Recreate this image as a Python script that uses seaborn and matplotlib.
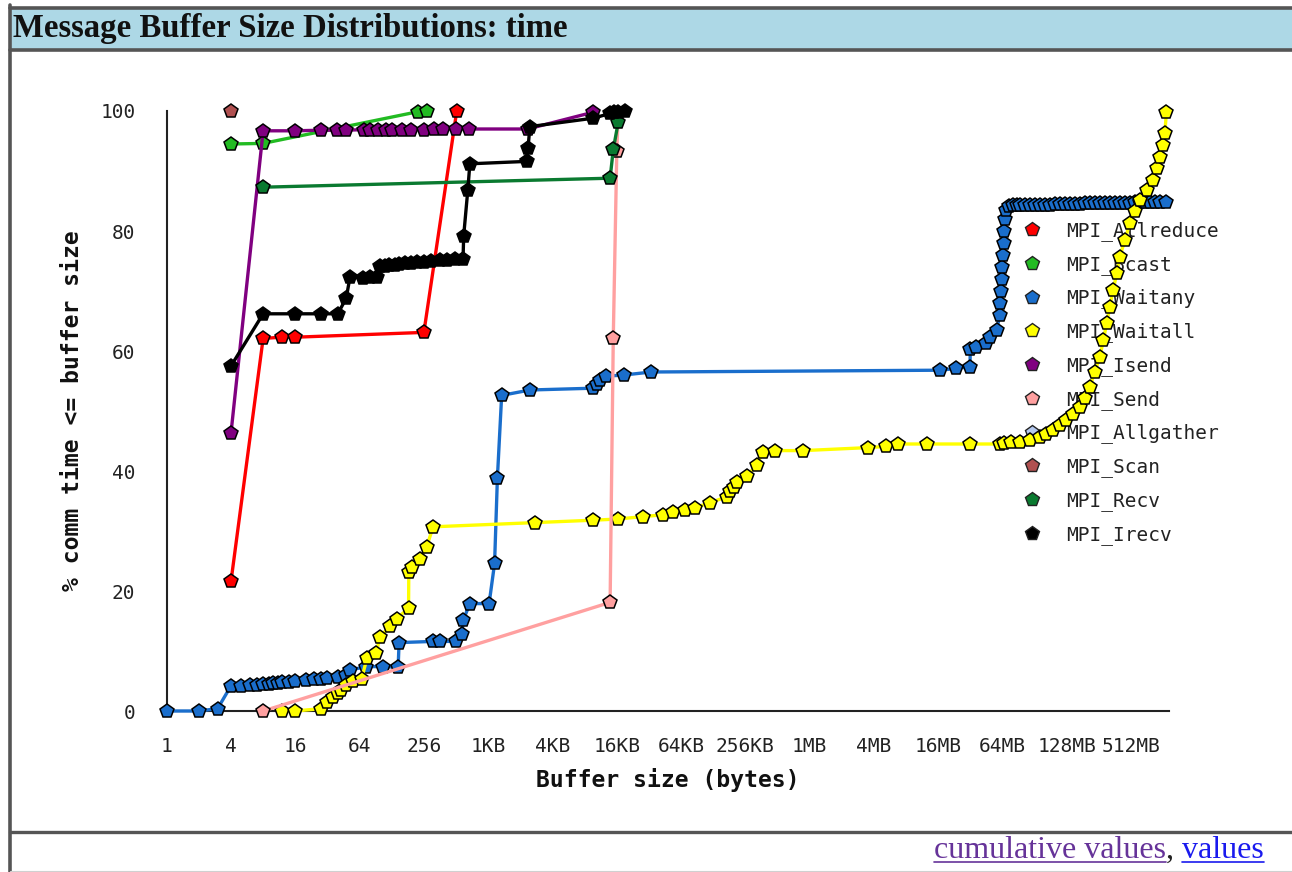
import matplotlib
matplotlib.use("Agg")
import matplotlib.pyplot as plt
from matplotlib.lines import Line2D
from matplotlib.patches import Rectangle
from matplotlib.ticker import FixedLocator, FixedFormatter, NullLocator
import seaborn as sns
import pandas as pd

# ---------------- data (buffer size in bytes, % comm time <= size) ----------------
series_names = ["MPI_Allreduce", "MPI_Bcast", "MPI_Waitany", "MPI_Waitall", "MPI_Isend",
                "MPI_Send", "MPI_Allgather", "MPI_Scan", "MPI_Recv", "MPI_Irecv"]
series_colors = ["#ff0000", "#22bb22", "#1a6ecc", "#ffff00", "#800080",
                 "#ffa0a0", "#b4c8ee", "#b05050", "#0a7a30", "#000000"]

allreduce_x = [4, 8, 12, 16, 256, 520]
allreduce_y = [21.6, 62.1, 62.3, 62.3, 63.1, 100]

bcast_x = [4, 8, 228, 272]
bcast_y = [94.5, 94.6, 99.9, 100]

waitany_x = [1, 2, 3, 4, 5, 6, 7, 8, 9, 10, 11, 12, 14, 16, 20, 24, 28, 32, 40, 48,
             52, 73, 107, 147, 150, 315, 362, 512, 580, 600, 690, 1045, 1176, 1250, 1370,
             2520, 9870, 10700, 11500, 13000, 19200, 34400,
             17.5e6, 24.8e6, 33.3e6, 33.5e6, 38.3e6, 47.5e6, 50.9e6, 59e6,
             63.5e6, 64e6, 65e6, 66e6, 67e6, 68e6, 69e6, 70e6, 71e6, 72e6,
             78e6, 84.4e6, 91e6, 97.6e6, 109e6, 121e6, 135e6, 150e6, 168e6, 186e6, 208e6, 232e6,
             260e6, 288e6, 320e6, 357e6, 400e6, 442e6, 495e6, 548e6, 610e6,
             680e6, 760e6, 842e6, 940e6, 1044e6, 1160e6, 1295e6, 1440e6, 1605e6, 1790e6, 1990e6, 2302e6]
waitany_y = [0, 0, 0.4, 4.2, 4.2, 4.3, 4.4, 4.5, 4.5, 4.6, 4.7, 4.8, 4.9, 5.0, 5.2, 5.3, 5.4, 5.5, 5.6, 6.0,
             6.8, 7.4, 7.4, 7.3, 11.4, 11.6, 11.6, 11.6, 12.9, 15.2, 17.9, 17.9, 24.6, 38.9, 52.6,
             53.5, 53.8, 54.5, 55.2, 55.8, 56.0, 56.5,
             56.8, 57.1, 57.4, 60.4, 60.7, 61.3, 62.4, 63.5,
             66, 68, 70, 72, 74, 76, 78, 80, 82, 83.5,
             84.1, 84.3, 84.3, 84.3, 84.4, 84.4, 84.4, 84.4, 84.4, 84.4, 84.5, 84.5,
             84.5, 84.5, 84.5, 84.5, 84.6, 84.6, 84.6, 84.6, 84.6,
             84.6, 84.7, 84.7, 84.7, 84.7, 84.8, 84.8, 84.8, 84.8, 84.9, 84.9, 84.9]

waitall_x = [12, 16, 28, 32, 36, 40, 43, 48, 56, 67, 75, 92, 99, 124, 142, 184, 185, 200,
             236, 272, 313, 2820, 9870, 16900, 28900, 44700, 55400, 71200, 88300,
             122e3, 175e3, 190e3, 205e3, 217e3, 269e3, 334e3, 386e3, 496e3, 912e3,
             3.7e6, 5.5e6, 7.1e6, 13.1e6, 33.3e6, 63.5e6, 70e6, 80e6, 97.6e6, 121e6,
             150e6, 172e6, 200e6, 232e6, 266e6, 310e6, 357e6, 400e6, 442e6, 490e6, 548e6, 590e6,
             634e6, 680e6, 729e6, 790e6, 842e6, 940e6, 1044e6, 1160e6,
             1295e6, 1500e6, 1732e6, 1860e6, 1990e6, 2130e6, 2223e6, 2302e6]
waitall_y = [0, 0, 0.4, 1.5, 2.3, 3.0, 3.5, 4.3, 5.0, 5.4, 8.8, 9.6, 12.4, 14.1, 15.4, 17.1, 23.2, 24.0,
             25.4, 27.4, 30.7, 31.4, 31.8, 32.0, 32.4, 32.7, 33.1, 33.5, 33.9,
             34.7, 35.7, 36.6, 37.4, 38.2, 39.1, 41.0, 43.2, 43.4, 43.4,
             43.9, 44.1, 44.5, 44.5, 44.5, 44.5, 44.6, 44.8, 44.9, 45.2,
             45.7, 46.2, 46.8, 47.6, 48.5, 49.5, 50.7, 52.2, 54.0, 56.5, 59.0, 61.8,
             64.6, 67.4, 70.2, 73.0, 75.7, 78.5, 81.3, 83.3,
             85.2, 86.9, 88.5, 90.5, 92.4, 94.4, 96.3, 99.9]

isend_x = [4, 8, 16, 28, 39, 48, 70, 80, 96, 112, 128, 160, 192, 256, 320, 384, 512, 675, 2400, 9870]
isend_y = [46.3, 96.7, 96.7, 96.8, 96.8, 96.8, 96.9, 96.9, 96.9, 96.9, 96.9, 96.9, 96.9, 96.9,
           97.0, 97.0, 97.0, 97.0, 97.0, 99.8]

send_x = [8, 14200, 15200, 16400, 16900]
send_y = [0, 18.1, 62.1, 93.3, 99.5]

allgather_x = []
allgather_y = []

scan_x = [4]
scan_y = [100]

recv_x = [8, 14200, 15200, 16900]
recv_y = [87.3, 88.8, 93.6, 98.1]

irecv_x = [4, 8, 16, 28, 40, 48, 52, 69, 80, 94, 100, 110, 120, 136, 150, 170, 192, 220, 256,
           300, 360, 420, 500, 596, 604, 660, 690, 2350, 2420, 2520, 9870, 14300, 15500, 17000, 19700]
irecv_y = [57.5, 66.2, 66.2, 66.2, 66.2, 68.8, 72.3, 72.2, 72.3, 72.4, 74.2, 74.2, 74.3, 74.4, 74.5,
           74.6, 74.7, 74.8, 74.9, 75.0, 75.1, 75.2, 75.3, 75.4, 79.2, 86.8, 91.2, 91.6, 93.9, 97.4,
           98.8, 99.6, 99.8, 99.9, 100]

tick_values = [1, 4, 16, 64, 256, 1024, 4096, 16384, 65536, 262144, 1048576, 4194304,
               16777216, 67108864, 268435456, 1073741824]
tick_labels = ["1", "4", "16", "64", "256", "1KB", "4KB", "16KB", "64KB", "256KB", "1MB",
               "4MB", "16MB", "64MB", "128MB", "512MB"]
y_ticks = [0, 20, 40, 60, 80, 100]

series_x = [allreduce_x, bcast_x, waitany_x, waitall_x, isend_x, send_x, allgather_x, scan_x, recv_x, irecv_x]
series_y = [allreduce_y, bcast_y, waitany_y, waitall_y, isend_y, send_y, allgather_y, scan_y, recv_y, irecv_y]

rows = []
for name, xs, ys in zip(series_names, series_x, series_y):
    assert len(xs) == len(ys), name
    for i, (xv, yv) in enumerate(zip(xs, ys)):
        rows.append({"series": name, "order": i, "size": xv, "pct": yv})
df = pd.DataFrame(rows)

# ---------------- figure ----------------
sns.set_style("white")
plt.rcParams["font.family"] = ["DejaVu Sans Mono", "DejaVu Sans"]

W, H = 1292, 872
fig = plt.figure(figsize=(W / 100, H / 100), dpi=100)
fig.patch.set_facecolor("white")

def fx(px):
    return px / W

def fy(py):
    return 1 - py / H

# page frame / header
fig.patches.append(Rectangle((fx(10), fy(50)), fx(W - 10), (50 - 8) / H, transform=fig.transFigure,
                             facecolor="#add8e6", edgecolor="none", zorder=0))
for yy in (8.3, 49.8):
    fig.lines.append(Line2D([fx(10), fx(W)], [fy(yy), fy(yy)], transform=fig.transFigure,
                            color="#555555", linewidth=2.6))
fig.lines.append(Line2D([fx(10.2), fx(10.2)], [fy(5), fy(H)], transform=fig.transFigure,
                        color="#555555", linewidth=2.6))
fig.lines.append(Line2D([fx(10), fx(W)], [fy(832), fy(832)], transform=fig.transFigure,
                        color="#555555", linewidth=2.4))
fig.lines.append(Line2D([fx(10), fx(W)], [fy(871), fy(871)], transform=fig.transFigure,
                        color="#d0d0d0", linewidth=0.8))
fig.text(fx(13), fy(37), "Message Buffer Size Distributions: time", family="Liberation Serif",
         weight="bold", fontsize=23.6, va="baseline", ha="left", color="#111111")

# axes
ax = fig.add_axes([fx(166.7), fy(711), 1002 / W, 600 / H])
ax.set_facecolor("white")

for name, color in zip(series_names, series_colors):
    sub = df[df["series"] == name].sort_values("order")
    if len(sub) == 0:
        continue
    sns.lineplot(data=sub, x="size", y="pct", ax=ax, color=color, sort=False, estimator=None,
                 linewidth=2.4, marker="p", markersize=10, markeredgecolor="black",
                 markeredgewidth=1.1, legend=False, clip_on=False, zorder=3)

ax.set_xscale("log", base=2)
ax.set_xlim(1, 2 ** 31.17)
ax.set_ylim(0, 100)
ax.xaxis.set_major_locator(FixedLocator(tick_values))
ax.xaxis.set_major_formatter(FixedFormatter(tick_labels))
ax.xaxis.set_minor_locator(NullLocator())
ax.set_yticks(y_ticks)
ax.set_yticklabels([str(v) for v in y_ticks])

for s in ("top", "right"):
    ax.spines[s].set_visible(False)
for s in ("left", "bottom"):
    ax.spines[s].set_color("#222222")
    ax.spines[s].set_linewidth(1.5)
ax.tick_params(axis="x", direction="out", length=10, width=1.5, color="#222222", pad=9,
               labelsize=14, labelcolor="#222222")
ax.tick_params(axis="y", direction="out", length=10.5, width=1.5, color="#222222", pad=12,
               labelsize=14, labelcolor="#222222")

ax.set_xlabel("Buffer size (bytes)", fontsize=16.6, weight="bold", family="DejaVu Sans Mono",
              color="#111111")
ax.set_ylabel("% comm time <= buffer size", fontsize=16.6, weight="bold", family="DejaVu Sans Mono",
              color="#111111")
ax.xaxis.set_label_coords(0.5, (711 - 780) / 600)
ax.yaxis.set_label_coords((73 - 166.7) / 1002, 0.5)
ax.xaxis.label.set_va("center")
ax.yaxis.label.set_va("center")

# legend (drawn beneath the data)
handles = [Line2D([], [], linestyle="none", marker="p", markersize=10, markerfacecolor=c,
                  markeredgecolor="#222222", markeredgewidth=1.0) for c in series_colors]
leg = ax.legend(handles, series_names, loc="upper left", bbox_to_anchor=(fx(1022.3), fy(221)),
                bbox_transform=fig.transFigure, frameon=False, borderpad=0, borderaxespad=0,
                handlelength=1.0, handletextpad=1.25, labelspacing=0.71,
                prop={"family": "DejaVu Sans Mono", "size": 14})
for t in leg.get_texts():
    t.set_color("#222222")
leg.set_zorder(1)

# footer links
fig.canvas.draw()
renderer = fig.canvas.get_renderer()
t_values = fig.text(fx(1264), fy(858), "values", family="Liberation Serif", fontsize=23,
                    ha="right", va="baseline", color="#1a1aee")
bb_v = t_values.get_window_extent(renderer)
t_comma = fig.text(bb_v.x0 / W, fy(858), ", ", family="Liberation Serif", fontsize=23,
                   ha="right", va="baseline", color="#222222")
bb_c = t_comma.get_window_extent(renderer)
t_cum = fig.text(bb_c.x0 / W, fy(858), "cumulative values", family="Liberation Serif", fontsize=23,
                 ha="right", va="baseline", color="#663399")
bb_cu = t_cum.get_window_extent(renderer)
for bb, col in ((bb_v, "#1a1aee"), (bb_cu, "#663399")):
    fig.lines.append(Line2D([bb.x0 / W, bb.x1 / W], [fy(862), fy(862)], transform=fig.transFigure,
                            color=col, linewidth=1.2))

fig.savefig("out.png", dpi=100, facecolor="white")
